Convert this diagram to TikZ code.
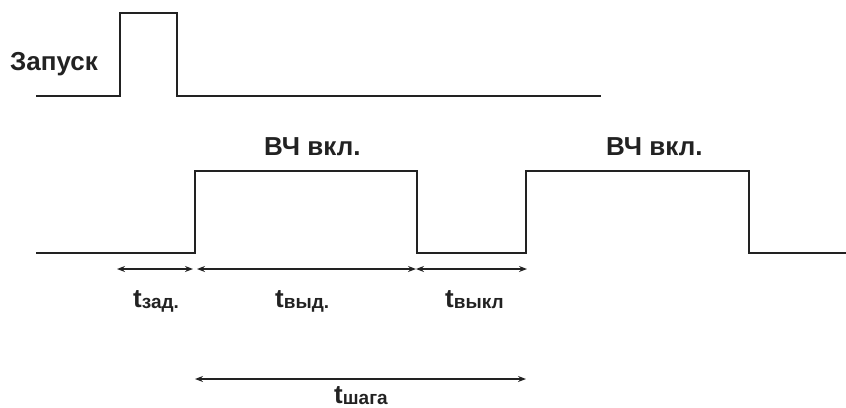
\documentclass[tikz,border=0pt]{standalone}
\usepackage{fontspec}
\setmainfont{Liberation Sans}
\usetikzlibrary{arrows.meta}
\definecolor{ink}{HTML}{222222}
\newcommand{\tsub}[2]{\textbf{\fontsize{26}{26}\selectfont #1\raisebox{-0.1ex}{\fontsize{19}{19}\selectfont #2}}}
\begin{document}
\begin{tikzpicture}[x=1pt,y=-1pt,
  sig/.style={draw=ink, line width=1.8pt, line join=miter},
  dim/.style={draw=ink, line width=1.5pt, {Stealth[length=8pt,width=6pt]}-{Stealth[length=8pt,width=6pt]}},
  lbl/.style={text=ink, font=\bfseries\fontsize{26}{26}\selectfont, inner sep=0pt, anchor=base west},
  tl/.style={text=ink, inner sep=0pt, anchor=base west}]
\useasboundingbox (0,0) rectangle (846,407);
% top signal
\coordinate (s0) at (36,96);
\coordinate (s1) at (601,96);
\draw[sig] (s0) -- (120,96) -- (120,13) -- (177,13) -- (177,96) -- (s1);
\node[lbl] (zap) at (10,70) {Запуск};
% bottom signal
\coordinate (b0) at (36,253);
\coordinate (b1) at (846,253);
\draw[sig] (b0) -- (195,253) -- (195,171) -- (417,171) -- (417,253) -- (526,253) -- (526,171) -- (749,171) -- (749,253) -- (b1);
\node[lbl] (hf1) at (264,155) {ВЧ вкл.};
\node[lbl] (hf2) at (606,155) {ВЧ вкл.};
% dimension arrows
\coordinate (d0) at (117,269);
\coordinate (d1) at (193,269);
\coordinate (d2) at (197,269);
\coordinate (d3) at (416,269);
\coordinate (d4) at (527,269);
\coordinate (e0) at (195,379);
\coordinate (e1) at (526,379);
\draw[dim] (d0) -- (d1);
\draw[dim] (d2) -- (d3);
\draw[dim] (d3) -- (d4);
\draw[dim] (e0) -- (e1);
\node[tl] (tz) at (133,307) {\tsub{t}{зад.}};
\node[tl] (tv) at (275,307) {\tsub{t}{выд.}};
\node[tl] (tk) at (445,307) {\tsub{t}{выкл}};
\node[tl] (ts) at (334,403) {\tsub{t}{шага}};
\end{tikzpicture}
\end{document}
